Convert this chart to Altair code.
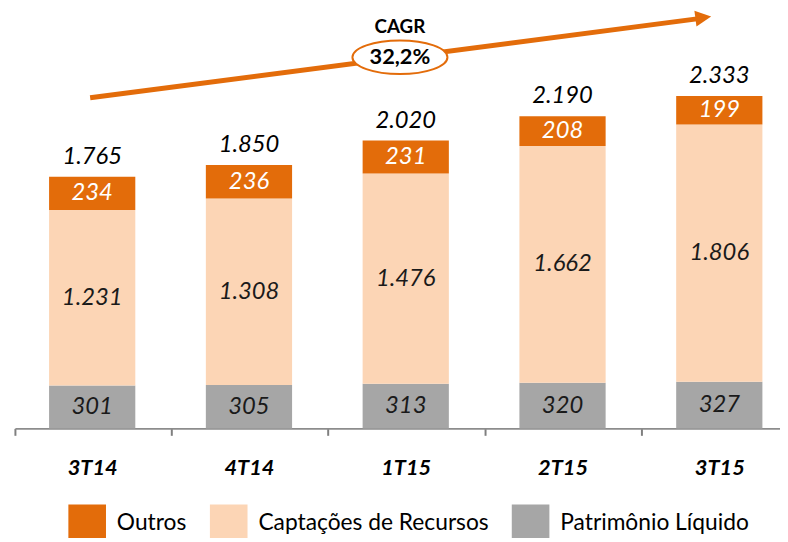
import altair as alt
import pandas as pd

# ---- data ----
categories = ["3T14", "4T14", "1T15", "2T15", "3T15"]
patrimonio = [301, 305, 313, 320, 327]
captacoes = [1231, 1308, 1476, 1662, 1806]
outros = [234, 236, 231, 208, 199]
totals = [1765, 1850, 2020, 2190, 2333]
series_names = ["Outros", "Captações de Recursos", "Patrimônio Líquido"]
series_colors = ["#E36C0A", "#FCD5B5", "#A6A6A6"]
cagr_title = "CAGR"
cagr_value = "32,2%"


def fmt(v):
    return f"{v:,}".replace(",", ".")


rows = []
for i, c in enumerate(categories):
    for ordv, (name, vals) in enumerate(
        [("Patrimônio Líquido", patrimonio), ("Captações de Recursos", captacoes), ("Outros", outros)]
    ):
        rows.append({"cat": c, "serie": name, "value": vals[i], "ord": ordv, "label": fmt(vals[i])})
df = pd.DataFrame(rows)
tot_df = pd.DataFrame({"cat": categories, "total": totals, "label": [fmt(t) for t in totals]})

FONT = "Lato"
ORANGE = "#E36C0A"

x_scale = alt.Scale(paddingInner=0.45, paddingOuter=0.165, align=0.66, round=False)
x_enc = alt.X(
    "cat:N",
    sort=categories,
    title=None,
    scale=x_scale,
    axis=alt.Axis(
        labelAngle=0,
        labelFont=FONT,
        labelFontSize=22,
        labelFontWeight="bold",
        labelFontStyle="italic",
        labelColor="#000000",
        labelPadding=23,
        tickBand="center",
        tickOffset=-78.5,
        labelOffset=78.5,
        tickSize=7,
        tickColor="#7F7F7F",
        tickWidth=2,
        domainColor="#8C8C8C",
        domainWidth=2,
        grid=False,
    ),
)
y_scale = alt.Scale(domain=[0, 2917], nice=False)

bars = alt.Chart(df).mark_bar().encode(
    x=x_enc,
    y=alt.Y("value:Q", stack="zero", scale=y_scale, axis=None),
    color=alt.Color(
        "serie:N",
        scale=alt.Scale(domain=series_names, range=series_colors),
        legend=alt.Legend(
            title=None,
            orient="none",
            direction="horizontal",
            legendX=54,
            legendY=497,
            symbolType="square",
            symbolSize=1444,
            symbolStrokeWidth=0,
            labelFont=FONT,
            labelFontSize=23,
            labelColor="#000000",
            labelOffset=11,
            labelLimit=400,
            columnPadding=23,
        ),
    ),
    order=alt.Order("ord:Q", sort="ascending"),
)

seg_text = (
    alt.Chart(df)
    .transform_stack(stack="value", groupby=["cat"], sort=[alt.SortField("ord", order="ascending")], as_=["v0", "v1"])
    .transform_calculate(mid="(datum.v0 + datum.v1) / 2")
    .mark_text(font=FONT, fontSize=24, fontStyle="italic", baseline="middle")
    .encode(
        x=alt.X("cat:N", sort=categories, scale=x_scale),
        y=alt.Y("mid:Q", scale=y_scale),
        text="label:N",
        color=alt.condition("datum.serie == 'Outros'", alt.value("#FFFFFF"), alt.value("#1A1A1A")),
    )
)

tot_text = (
    alt.Chart(tot_df)
    .mark_text(font=FONT, fontSize=24, fontStyle="italic", baseline="alphabetic", dy=-13, color="#000000")
    .encode(x=alt.X("cat:N", sort=categories, scale=x_scale), y=alt.Y("total:Q", scale=y_scale), text="label:N")
)

one = pd.DataFrame({"k": [0]})

arrow_line = alt.Chart(one).mark_rule(color=ORANGE, strokeWidth=5).encode(
    x=alt.value(76), y=alt.value(86), x2=alt.value(691), y2=alt.value(6)
)
arrow_head = alt.Chart(one).mark_point(
    shape="M-1,-1 L1,0 L-1,1 Z", filled=True, color=ORANGE, opacity=1, size=256, angle=352.5
).encode(x=alt.value(695.5), y=alt.value(5))
ellipse = alt.Chart(one).mark_point(
    shape="M-1,0 A1,0.354 0 1,1 1,0 A1,0.354 0 1,1 -1,0 Z",
    filled=True,
    fill="#FFFFFF",
    stroke=ORANGE,
    strokeWidth=2,
    opacity=1,
    size=9216,
).encode(x=alt.value(389), y=alt.value(45))
cagr_t = alt.Chart(one).mark_text(font=FONT, fontSize=19, fontWeight="bold", color="#000000").encode(
    x=alt.value(389), y=alt.value(15), text=alt.value(cagr_title)
)
cagr_v = alt.Chart(one).mark_text(font=FONT, fontSize=22, fontWeight="bold", color="#000000").encode(
    x=alt.value(389), y=alt.value(45), text=alt.value(cagr_value)
)

chart = (
    alt.layer(bars, seg_text, tot_text, arrow_line, ellipse, arrow_head, cagr_t, cagr_v)
    .properties(
        width=773,
        height=420,
        autosize=alt.AutoSizeParams(type="none"),
        padding={"left": 7, "top": 2, "right": 0, "bottom": 108},
    )
    .configure_view(stroke=None)
    .configure_legend(symbolOpacity=1)
)

chart.save("out.html", embed_options={"renderer": "svg", "actions": False})
